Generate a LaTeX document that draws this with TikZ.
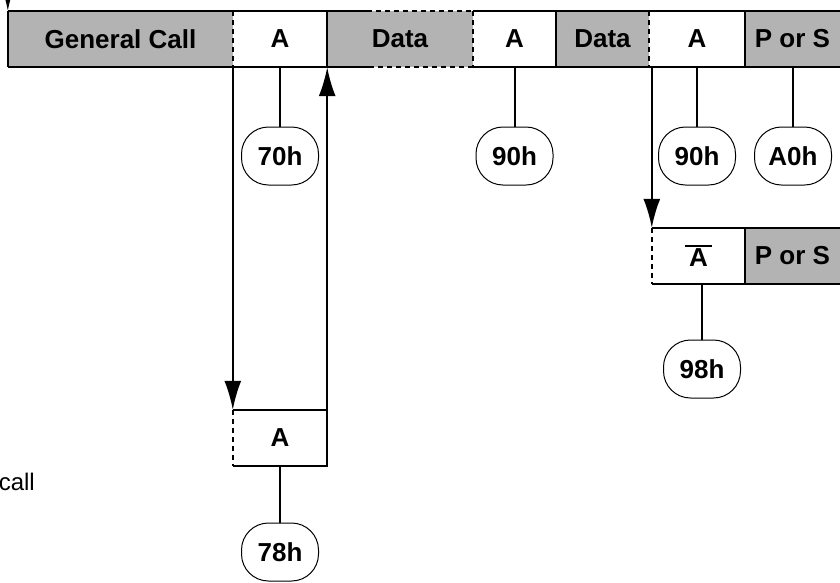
\documentclass[tikz,border=0pt]{standalone}
\usepackage{fontspec}
\setmainfont{Liberation Sans}
\usetikzlibrary{arrows.meta}
\definecolor{boxgray}{RGB}{179,179,179}
\newcommand\abar[1]{\leavevmode\rlap{\hspace{-0.16em}\rule[0.76em]{1.04em}{0.075em}}#1}
\begin{document}
\begin{tikzpicture}[x=1pt,y=-1pt,
  every node/.style={font=\fontsize{26}{30}\selectfont\bfseries, inner sep=0pt},
  cell/.style={minimum height=56pt},
  grayc/.style={cell, fill=boxgray},
  whitec/.style={cell, fill=white},
  oval/.style={draw, line width=1pt, rounded corners=27pt, minimum width=77pt, minimum height=58pt},
  bline/.style={line width=2.2pt},
  dline/.style={line width=2.2pt, dash pattern=on 5pt off 4pt},
  conn/.style={line width=2pt},
  arr/.style={line width=2pt, -{Latex[length=29pt,width=17pt]}}]
\useasboundingbox (0,0) rectangle (840,582);
\clip (0,0) rectangle (840,582);
% top row
\node[grayc, minimum width=225pt] (gc) at (120.5,39) {General Call};
\node[whitec, minimum width=94pt] (a1) at (280,39) {A};
\node[grayc, minimum width=146pt] (d1) at (400,39) {Data};
\node[whitec, minimum width=83pt] (a2) at (514.5,39) {A};
\node[grayc, minimum width=93pt] (d2) at (602.5,39) {Data};
\node[whitec, minimum width=96pt] (a3) at (697,39) {A};
\node[grayc, minimum width=95pt] (ps1) at (792.5,39) {P or S};
% borders top row
\draw[bline] (gc.north west) -- ([xshift=40pt]d1.north west);
\draw[dline] ([xshift=40pt]d1.north west) -- (d1.north east);
\draw[bline] (d1.north east) -- (ps1.north east);
\draw[bline] (gc.south west) -- ([xshift=42pt]d1.south west);
\draw[dline] ([xshift=42pt]d1.south west) -- (d1.south east);
\draw[bline] (d1.south east) -- (ps1.south east);
\draw[bline] (gc.north west) -- (gc.south west);
\draw[dline] (a1.north west) -- (a1.south west);
\draw[bline] (a1.north east) -- (a1.south east);
\draw[dline] (a2.north west) -- (a2.south west);
\draw[bline] (a2.north east) -- (a2.south east);
\draw[dline] (a3.north west) -- (a3.south west);
\draw[bline] (a3.north east) -- (a3.south east);
% second row
\node[whitec, minimum width=93pt] (ab) at (698.5,256) {\abar{A}};
\node[grayc, minimum width=95pt] (ps2) at (792.5,256) {P or S};
\draw[bline] (ab.north west) -- (ps2.north east);
\draw[bline] (ab.south west) -- (ps2.south east);
\draw[dline] (ab.north west) -- (ab.south west);
\draw[bline] (ab.north east) -- (ab.south east);
% lower A box
\node[whitec, minimum width=94pt] (a4) at (280,438) {A};
\draw[bline] (a4.north west) -- (a4.north east) -- (a4.south east) -- (a4.south west);
\draw[dline] (a4.north west) -- (a4.south west);
% ovals
\node[oval] (o70) at (280,156) {70h};
\node[oval] (o90a) at (514.5,156) {90h};
\node[oval] (o90b) at (697,156) {90h};
\node[oval] (oA0) at (793,156) {A0h};
\node[oval] (o98) at (702,369) {98h};
\node[oval] (o78) at (280,552) {78h};
% connectors
\draw[conn] (a1.south) -- (o70.north);
\draw[conn] (a2.south) -- (o90a.north);
\draw[conn] (a3.south) -- (o90b.north);
\draw[conn] (oA0.north |- ps1.south) -- (oA0.north);
\draw[conn] (o98.north |- ab.south) -- (o98.north);
\draw[conn] (a4.south) -- (o78.north);
% arrows
\coordinate (start) at (8,-25);
\draw[arr] (start) -- (gc.north west);
\draw[arr] (a1.south west) -- (a4.north west);
\draw[arr] (a4.north east) -- (a1.south east);
\draw[arr] (a3.south west -| ab.north west) -- (ab.north west);
% text
\node[anchor=base east, font=\fontsize{24}{28}\selectfont] (call) at (35,490) {call};
\end{tikzpicture}
\end{document}
